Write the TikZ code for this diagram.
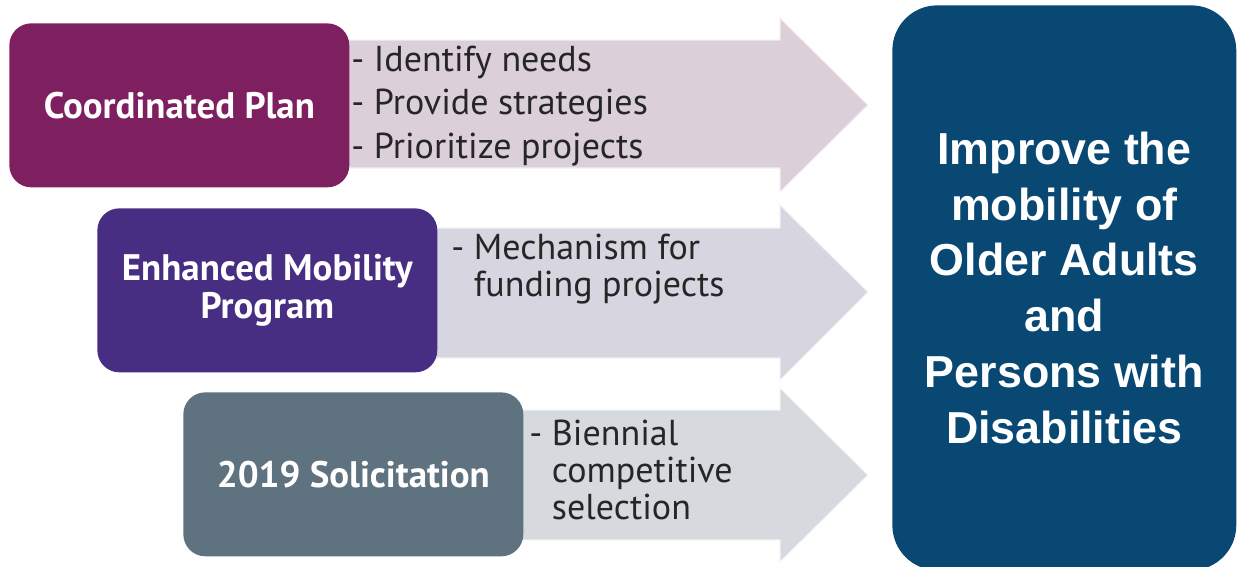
\documentclass[tikz,border=0pt]{standalone}
\usepackage{fontspec}
\setmainfont{PT Sans}
\newfontfamily\goalfont{Liberation Sans}
\definecolor{planc}{RGB}{126,31,96}
\definecolor{progc}{RGB}{71,46,130}
\definecolor{solc}{RGB}{94,114,128}
\definecolor{goalc}{RGB}{8,72,114}
\definecolor{planlt}{RGB}{219,208,217}
\definecolor{proglt}{RGB}{215,213,224}
\definecolor{sollt}{RGB}{214,217,221}
\definecolor{txtc}{RGB}{38,38,38}
\begin{document}
\begin{tikzpicture}[x=0.02cm,y=-0.02cm,
base/.style={%
inner sep=0,
font={\bfseries\color{white} \fontsize{21pt}{21.5pt}\selectfont},
align=center,
minimum width=6.8cm,
minimum height=3.28cm,
rounded corners=0.44cm,
anchor=north west,
},
goal/.style={%
base,
font={\goalfont\bfseries\color{white} \fontsize{25.5pt}{31.8pt}\selectfont},
minimum width=6.88cm,
minimum height=11.3cm,
rounded corners=0.9cm,
fill=goalc,
},
shaft/.style={%
draw=white!70!#1,
line width=0.6pt,
fill=#1,
},
bullets/.style={%
font={\color{txtc} \fontsize{20.5pt}{24.6pt}\selectfont},
align=left,
anchor=west,
inner sep=0,
}
]
\useasboundingbox (0,0) rectangle (1238,566);

%Arrows
\filldraw[shaft=planlt](340,40)--(780,40)--(780,18)--(868,105)--(780,192)--(780,168)--(340,168)--cycle;
\filldraw[shaft=proglt](430,228)--(780,228)--(780,205)--(868,292)--(780,380)--(780,358)--(430,358)--cycle;
\filldraw[shaft=sollt](515,410)--(780,410)--(780,388)--(868,475)--(780,562)--(780,540)--(515,540)--cycle;

%Plan
\node[base,fill=planc](plan)at(9,23){Coordinated Plan};
\node[bullets](planlist)at(351,106){- Identify needs\\- Provide strategies\\- Prioritize projects};

%Program
\node[base,fill=progc](prog)at(97,208){Enhanced Mobility\\Program};
\node[bullets,font={\color{txtc} \fontsize{20.5pt}{21.5pt}\selectfont}](proglist)at(451,269){- Mechanism for\\\hphantom{- }funding projects};

%Solicitation
\node[base,fill=solc](sol)at(183,392){2019 Solicitation};
\node[bullets,font={\color{txtc} \fontsize{20.5pt}{21.3pt}\selectfont}](sollist)at(529,470){- Biennial\\\hphantom{- }competitive\\\hphantom{- }selection};

%Goal
\node[goal](goal)at(892,5){Improve the\\mobility of\\Older Adults\\and\\Persons with\\Disabilities};
\end{tikzpicture}
\end{document}
